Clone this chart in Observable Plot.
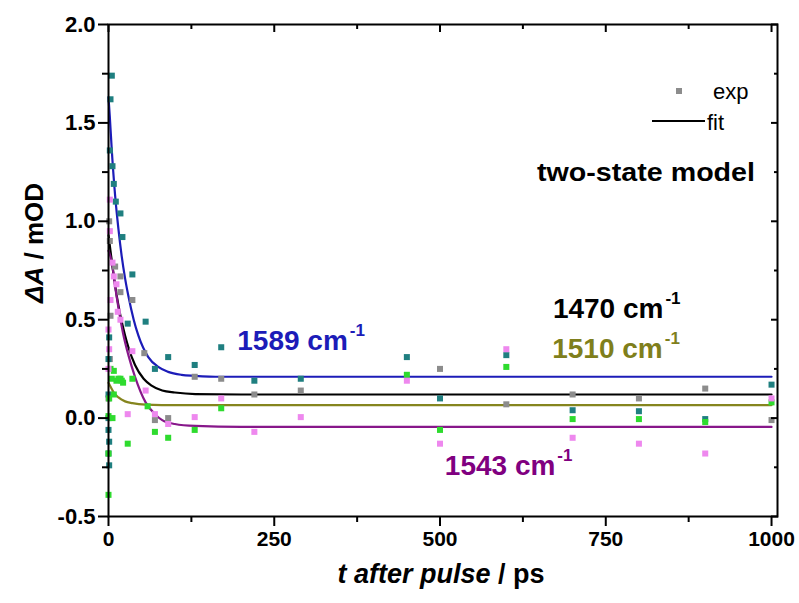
<!DOCTYPE html>
<html><head><meta charset="utf-8">
<script src="https://cdn.jsdelivr.net/npm/d3@7"></script>
<script src="https://cdn.jsdelivr.net/npm/@observablehq/plot@0.6"></script>
<style>body{margin:0;background:#fff} svg{display:block}</style>
</head><body><div id="chart"></div>
<script>
const FONT = '"Liberation Sans", Arial, Helvetica, sans-serif';

// ---- experimental points (t in ps, ΔA in mOD) ----
const exp1589T = [0,0,0,1,0,1,1,0,2,3,5,6,8,11,18,21,29,36,56,70,90,130,170,220,290,450,500,600,700,800,900,1000];
const exp1589V = [0.12,0.0,-0.06,-0.12,-0.18,-0.24,0.41,0.30,1.36,1.62,1.74,1.28,1.19,1.10,1.04,0.92,0.48,0.73,0.49,0.25,0.31,0.27,0.36,0.19,0.20,0.31,0.10,0.32,0.04,0.035,-0.005,0.17];

const exp1470T = [0,2,1,2,10,18,18,36,3,54,70,90,130,170,220,290,500,600,700,800,900,1000];
const exp1470V = [0.10,0.30,1.00,0.90,0.77,0.72,0.64,0.60,0.52,0.33,-0.01,0.0,0.21,0.20,0.12,0.14,0.25,0.07,0.12,0.10,0.15,-0.01];

const exp1510T = [0,1,0,0,6,3,5,8,8,12,15,18,20,22,36,29,59,70,90,130,170,450,500,600,700,800,900,1000];
const exp1510V = [0.01,0.10,-0.18,-0.39,0.0,0.25,0.20,0.24,0.12,0.19,0.20,0.20,0.19,0.18,0.20,-0.13,0.06,-0.07,-0.10,-0.06,0.05,0.22,-0.06,0.26,-0.005,-0.005,-0.02,0.08];

const exp1543T = [0,1,0,2,2,6,8,12,3,14,18,36,56,29,70,90,130,170,220,290,450,500,600,700,800,900,1000];
const exp1543V = [0.45,0.35,0.25,1.11,0.95,0.79,0.72,0.68,0.60,0.54,0.50,0.34,0.14,0.02,0.02,-0.03,0.005,0.10,-0.07,0.005,0.19,-0.13,0.35,-0.10,-0.13,-0.18,0.10];

// ---- fitted curves ----
const fit1589T = [0,2,5,10,15,20,25,30,38,45,60,75,90,110,130,170,1000];
const fit1589V = [1.63,1.53,1.36,1.13,0.96,0.82,0.71,0.62,0.50,0.42,0.31,0.26,0.235,0.22,0.215,0.21,0.21];
const fit1470T = [0,3,8,13,18,25,30,40,53,65,81,100,131,200,1000];
const fit1470V = [0.93,0.85,0.72,0.61,0.52,0.42,0.36,0.27,0.20,0.165,0.14,0.13,0.122,0.12,0.12];
const fit1510T = [0,3,8,15,25,36,56,80,1000];
const fit1510V = [0.18,0.16,0.13,0.105,0.085,0.076,0.068,0.066,0.066];
const fit1543T = [0,3,6,10,15,22,30,40,56,70,81,100,131,200,1000];
const fit1543V = [0.85,0.82,0.77,0.67,0.56,0.43,0.32,0.21,0.08,0.02,-0.01,-0.03,-0.04,-0.045,-0.045];

// ---- series styling ----
const seriesNames = ["1589","1470","1510","1543"];
const pointColors = {"1589":"#1f7f80","1470":"#8c8c8c","1510":"#2edb2e","1543":"#ee88ee"};
const lineColors  = {"1589":"#1c1cb8","1470":"#000000","1510":"#85851e","1543":"#87178a"};

// ---- annotations ----
const labelText  = ["1589 cm","1470 cm","1510 cm","1543 cm"];
const labelT     = [195, 671, 670, 508];
const labelV     = [0.343, 0.506, 0.303, -0.292];
const labelColor = ["#1c1cb8","#000000","#7f7f1c","#800080"];

// ---- axes ----
const yMajor = [-0.5,0,0.5,1.0,1.5,2.0];
const yMinor = [-0.25,0.25,0.75,1.25,1.75];
const xMajor = [0,250,500,750,1000];
const xMinor = [125,375,625,875];

const pts = [];
const addPts = (s,T,V)=>T.forEach((t,i)=>pts.push({s,t,v:V[i]}));
addPts("1470",exp1470T,exp1470V);
addPts("1589",exp1589T,exp1589V);
addPts("1510",exp1510T,exp1510V);
addPts("1543",exp1543T,exp1543V);
const fits = [];
const addFit = (s,T,V)=>T.forEach((t,i)=>fits.push({s,t,v:V[i]}));
addFit("1589",fit1589T,fit1589V);
addFit("1470",fit1470T,fit1470V);
addFit("1510",fit1510T,fit1510V);
addFit("1543",fit1543T,fit1543V);

const tickFont = {fontSize: 22, fontWeight: "bold", fontFamily: FONT};

const svg = Plot.plot({
  width: 799, height: 603,
  marginLeft: 108, marginRight: 22, marginTop: 24, marginBottom: 87,
  style: {fontFamily: FONT, background: "white", overflow: "visible"},
  x: {domain: [0, 1009]},
  y: {domain: [-0.5, 2.0]},
  color: {type: "identity"},
  marks: [
    Plot.line(fits, {x: "t", y: "v", z: "s", stroke: d => lineColors[d.s], strokeWidth: 2.2, curve: "monotone-x"}),
    Plot.dot(pts, {x: "t", y: "v", fill: d => pointColors[d.s], symbol: "square", r: 3.4, stroke: "none"}),
    Plot.axisY(yMajor, {anchor: "left", tickSize: 10, tickPadding: 3, strokeWidth: 2, tickFormat: d => d.toFixed(1), label: null, ...tickFont}),
    Plot.axisY(yMinor, {anchor: "left", tickSize: 6, strokeWidth: 2, text: null, label: null}),
    Plot.axisY(yMajor, {anchor: "right", tickSize: -7, strokeWidth: 2, text: null, label: null}),
    Plot.axisY(yMinor, {anchor: "right", tickSize: -4, strokeWidth: 2, text: null, label: null}),
    Plot.axisX(xMajor, {anchor: "bottom", tickSize: 10, tickPadding: 5, strokeWidth: 2, tickFormat: d => String(d), label: null, ...tickFont, fontSize: 21}),
    Plot.axisX(xMinor, {anchor: "bottom", tickSize: 6, strokeWidth: 2, text: null, label: null}),
    Plot.axisX(xMajor, {anchor: "top", tickSize: -7, strokeWidth: 2, text: null, label: null}),
    Plot.axisX(xMinor, {anchor: "top", tickSize: -4, strokeWidth: 2, text: null, label: null}),
    Plot.frame({stroke: "black", strokeWidth: 2})
  ]
});
document.getElementById("chart").appendChild(svg);

const xs = svg.scale("x"), ys = svg.scale("y");
const root = d3.select(svg);
const g = root.append("g").attr("font-family", FONT).attr("font-weight", "bold").attr("text-anchor", "start");

labelText.forEach((txt, i) => {
  const t = g.append("text")
    .attr("x", xs.apply(labelT[i]))
    .attr("y", ys.apply(labelV[i]))
    .attr("fill", labelColor[i])
    .attr("font-size", 28)
    .text(txt);
  t.append("tspan").attr("font-size", 17).attr("dx", 2).attr("dy", -14).text("-1");
});

g.append("text").attr("x", 537).attr("y", 181).attr("font-size", 25)
  .attr("textLength", 218).attr("lengthAdjust", "spacingAndGlyphs").attr("fill", "black")
  .text("two-state model");

// legend
const lg = root.append("g").attr("font-family", FONT).attr("text-anchor", "start");
lg.append("rect").attr("x", 676).attr("y", 88).attr("width", 6).attr("height", 6).attr("fill", pointColors["1470"]);
lg.append("text").attr("x", 713).attr("y", 99).attr("font-size", 22).text("exp");
lg.append("line").attr("x1", 652).attr("x2", 705).attr("y1", 121).attr("y2", 121).attr("stroke", "black").attr("stroke-width", 2.2);
lg.append("text").attr("x", 707).attr("y", 130).attr("font-size", 22).text("fit");

// axis titles
const yl = g.append("text").attr("transform", "translate(43,243) rotate(-90)")
  .attr("text-anchor", "middle").attr("font-size", 26).attr("fill", "black");
yl.append("tspan").attr("font-style", "italic").text("ΔA");
yl.append("tspan").text(" / mOD");

const xl = g.append("text").attr("x", 441).attr("y", 583)
  .attr("text-anchor", "middle").attr("font-size", 27).attr("fill", "black");
xl.append("tspan").attr("font-style", "italic").text("t after pulse");
xl.append("tspan").text(" / ps");
</script></body></html>
